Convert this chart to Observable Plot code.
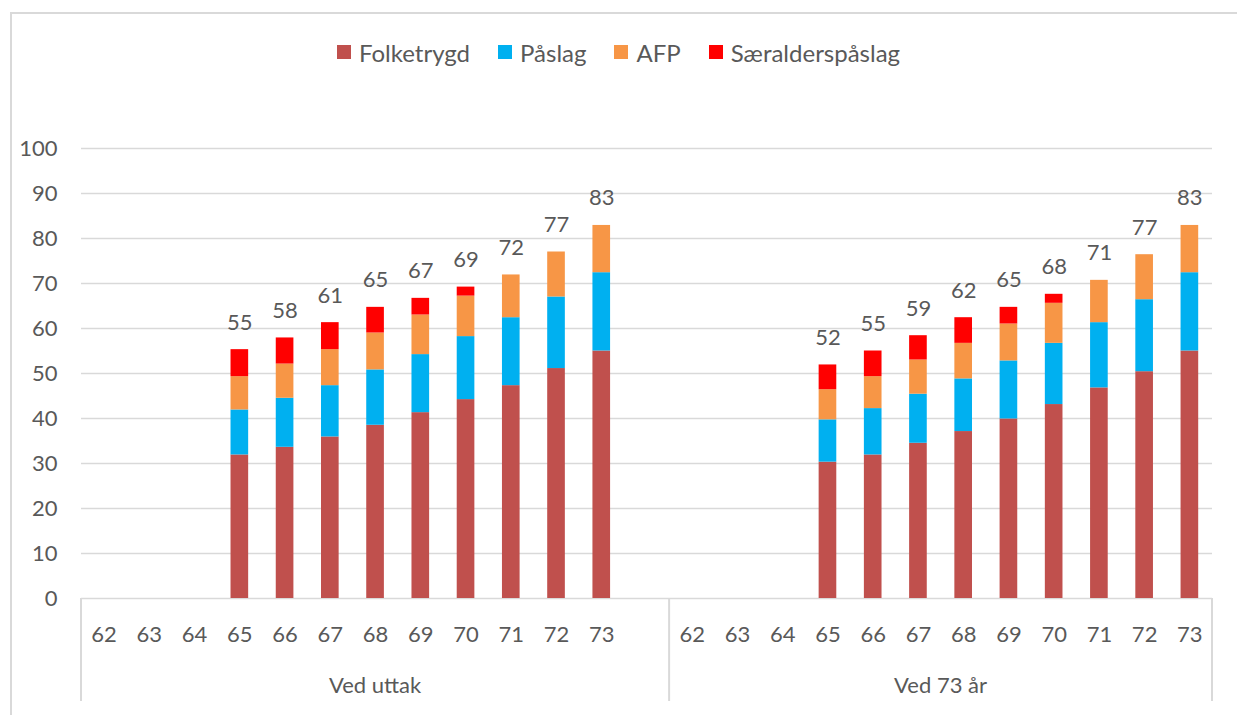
<!DOCTYPE html>
<html><head><meta charset="utf-8">
<script src="https://cdn.jsdelivr.net/npm/d3@7"></script>
<script src="https://cdn.jsdelivr.net/npm/@observablehq/plot@0.6"></script>
<style>
body{margin:0;background:#fff;font-family:Lato,"Open Sans",sans-serif;}
#chart{position:relative;width:1237px;height:715px;overflow:hidden;}
#frame{position:absolute;left:10px;top:12px;width:2000px;height:2000px;border-left:2px solid #d9d9d9;border-top:2px solid #d9d9d9;pointer-events:none;}
#legend{height:80px;display:flex;justify-content:center;align-items:center;padding-top:24px;box-sizing:border-box;color:#595959;font-size:24px;}
.item{display:flex;align-items:center;margin:0 14px;}
.sw{width:14px;height:14px;margin-right:8px;}
#plot svg{display:block;}
</style></head><body>
<div id="chart"><div id="frame"></div><div id="legend"></div><div id="plot"></div></div>
<script>
const ages = ["62","63","64","65","66","67","68","69","70","71","72","73"];
const groups = ["Ved uttak", "Ved 73 år"];
const components = ["Folketrygd", "Påslag", "AFP", "Særalderspåslag"];
const colors = ["#C0504D", "#00B0F0", "#F79646", "#FF0000"];
const yTicks = [0,10,20,30,40,50,60,70,80,90,100];

// Ved uttak (ages 62..73)
const uttakFolketrygd = [null,null,null,31.9,33.6,35.9,38.5,41.3,44.2,47.3,51.1,55.0];
const uttakPaslag     = [null,null,null,10.0,10.9,11.4,12.3,12.9,14.0,15.1,15.9,17.4];
const uttakAFP        = [null,null,null,7.4,7.6,8.0,8.2,8.8,9.0,9.5,10.0,10.5];
const uttakSaer       = [null,null,null,6.0,5.8,6.0,5.7,3.7,2.0,0,0,0];
const uttakLabels     = [null,null,null,55,58,61,65,67,69,72,77,83];

// Ved 73 år (ages 62..73)
const ved73Folketrygd = [null,null,null,30.3,31.9,34.5,37.1,39.9,43.1,46.8,50.4,55.0];
const ved73Paslag     = [null,null,null,9.4,10.3,10.9,11.7,12.9,13.6,14.5,16.0,17.4];
const ved73AFP        = [null,null,null,6.7,7.1,7.6,7.9,8.2,8.9,9.4,10.0,10.5];
const ved73Saer       = [null,null,null,5.5,5.7,5.4,5.7,3.7,2.0,0,0,0];
const ved73Labels     = [null,null,null,52,55,59,62,65,68,71,77,83];

const series = [
  [uttakFolketrygd, uttakPaslag, uttakAFP, uttakSaer, uttakLabels],
  [ved73Folketrygd, ved73Paslag, ved73AFP, ved73Saer, ved73Labels]
];

const key = (g, a) => g + "|" + a;
const domain = [...ages.map(a => key(0, a)), "gap", ...ages.map(a => key(1, a))];
const tickKeys = domain.filter(k => k !== "gap");

const rows = [];
const totals = [];
series.forEach((s, g) => {
  ages.forEach((a, i) => {
    if (s[0][i] == null) return;
    let sum = 0;
    components.forEach((c, j) => {
      rows.push({key: key(g, a), component: c, value: s[j][i]});
      sum += s[j][i];
    });
    totals.push({key: key(g, a), sum, label: s[4][i]});
  });
});

// legend
const legend = document.getElementById("legend");
components.forEach((c, i) => {
  const it = document.createElement("div");
  it.className = "item";
  it.innerHTML = `<span class="sw" style="background:${colors[i]}"></span><span>${c}</span>`;
  legend.appendChild(it);
});

const padInner = 0.61;
const plot = Plot.plot({
  width: 1237, height: 635,
  marginTop: 68, marginBottom: 117, marginLeft: 81, marginRight: 25,
  style: {fontFamily: "Lato, 'Open Sans', sans-serif", fontSize: "22px", color: "#595959", background: "transparent"},
  x: {type: "band", domain, paddingInner: padInner, paddingOuter: padInner / 2, round: false, axis: null},
  y: {domain: [0, 100], axis: null},
  color: {domain: components, range: colors},
  marks: [
    Plot.ruleY(yTicks, {stroke: "#d9d9d9", strokeWidth: 1.5}),
    Plot.axisY({ticks: yTicks, tickSize: 0, tickPadding: 24, fontSize: 22, label: null}),
    Plot.axisX({ticks: tickKeys, tickSize: 0, tickPadding: 28, fontSize: 22, label: null, tickFormat: k => k.split("|")[1]}),
    Plot.barY(rows, {x: "key", y: "value", fill: "component"}),
    Plot.text(totals, {x: "key", y: "sum", text: "label", dy: -27, fontSize: 22, fill: "#595959"})
  ]
});
document.getElementById("plot").appendChild(plot);

// group separators and group labels from the x scale
const xs = plot.scale("x");
const ys = plot.scale("y");
const step = xs.step;
const slotStart = k => xs.apply(k) - padInner * step / 2;
const x0 = slotStart(key(0, "62"));
const xMid = slotStart(key(1, "62"));
const x1 = slotStart(key(1, "73")) + step;
const yBase = ys.apply(0);
const yEnd = 621;
const svg = d3.select(plot);
const sep = svg.append("g").attr("stroke", "#d9d9d9").attr("stroke-width", 2);
[x0, xMid, x1].forEach(x => sep.append("line").attr("x1", x).attr("x2", x).attr("y1", yBase).attr("y2", yEnd));
const gl = svg.append("g").attr("fill", "#595959").attr("font-size", 22).attr("text-anchor", "middle");
[[x0, xMid], [xMid, x1]].forEach(([a, b], g) => {
  gl.append("text").attr("x", (a + b) / 2).attr("y", 605).attr("dy", "0.35em").text(groups[g]);
});
</script>
</body></html>
